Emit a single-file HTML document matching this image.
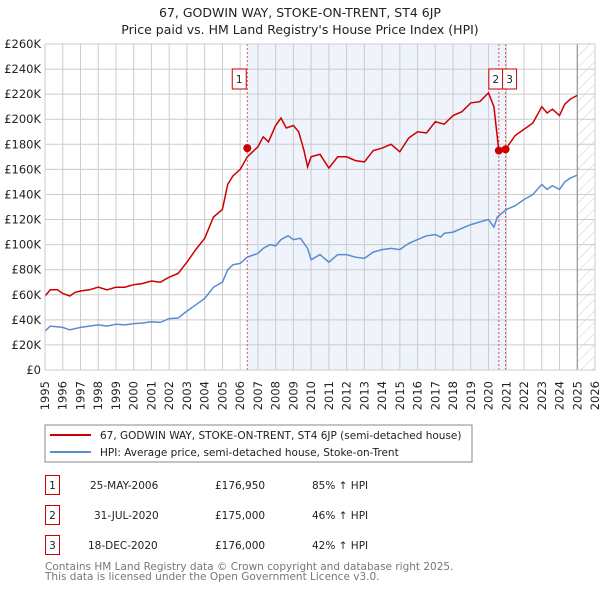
<!DOCTYPE html>
<html><head><meta charset="utf-8"><style>
body{margin:0;background:#fff;font-family:"Liberation Sans","DejaVu Sans",sans-serif;}
svg text{font-family:"DejaVu Sans","Liberation Sans",sans-serif;}
</style></head><body>
<svg id="c" width="600" height="590" xmlns="http://www.w3.org/2000/svg">
<defs><pattern id="h" width="8" height="8" patternUnits="userSpaceOnUse" patternTransform="rotate(45)"><line x1="0" y1="0" x2="0" y2="8" stroke="#ccc" stroke-width="1"/></pattern></defs>
<text x="300" y="17" text-anchor="middle" font-size="12.5" fill="#222">67, GODWIN WAY, STOKE-ON-TRENT, ST4 6JP</text>
<text x="300" y="34" text-anchor="middle" font-size="12.5" fill="#222">Price paid vs. HM Land Registry's House Price Index (HPI)</text>
<g id="plot"></g>
<rect x="45" y="425" width="427" height="37" fill="#fff" stroke="#888"/>
<line x1="50" y1="435" x2="91" y2="435" stroke="#cc0000" stroke-width="2"/>
<text x="100" y="439" font-size="10.5" fill="#222">67, GODWIN WAY, STOKE-ON-TRENT, ST4 6JP (semi-detached house)</text>
<line x1="50" y1="452" x2="91" y2="452" stroke="#5b8bd0" stroke-width="2"/>
<text x="100" y="456" font-size="10.5" fill="#222">HPI: Average price, semi-detached house, Stoke-on-Trent</text>
<g font-size="10.5" fill="#222">
<rect x="45.5" y="475.5" width="14" height="19" fill="none" stroke="#cc0000"/><text x="52.5" y="489" text-anchor="middle">1</text>
<text x="90" y="489">25-MAY-2006</text><text x="215" y="489">£176,950</text><text x="312" y="489">85% ↑ HPI</text>
<rect x="45.5" y="505.5" width="14" height="19" fill="none" stroke="#cc0000"/><text x="52.5" y="519" text-anchor="middle">2</text>
<text x="94" y="519">31-JUL-2020</text><text x="215" y="519">£175,000</text><text x="312" y="519">46% ↑ HPI</text>
<rect x="45.5" y="535.5" width="14" height="19" fill="none" stroke="#cc0000"/><text x="52.5" y="549" text-anchor="middle">3</text>
<text x="88" y="549">18-DEC-2020</text><text x="215" y="549">£176,000</text><text x="312" y="549">42% ↑ HPI</text>
</g>
<text x="45" y="570" font-size="10.5" fill="#777">Contains HM Land Registry data © Crown copyright and database right 2025.</text>
<text x="45" y="580" font-size="10.5" fill="#777">This data is licensed under the Open Government Licence v3.0.</text>
</svg>
<script>
const hpiYears=[1995,1995.3,1996,1996.4,1997,1998,1998.5,1999,1999.5,2000,2000.5,2001,2001.5,2002,2002.5,2003,2003.5,2004,2004.5,2005,2005.3,2005.6,2006,2006.4,2007,2007.3,2007.7,2008,2008.3,2008.7,2009,2009.4,2009.8,2010,2010.5,2011,2011.5,2012,2012.5,2013,2013.5,2014,2014.5,2015,2015.5,2016,2016.5,2017,2017.3,2017.5,2018,2018.5,2019,2019.5,2020,2020.3,2020.5,2021,2021.5,2022,2022.5,2023,2023.3,2023.6,2024,2024.3,2024.6,2025];
const hpiValues=[31,35,34,32,34,36,35,36.5,36,37,37.5,38.5,38,41,41.5,47,52,57,66,70,80,84,85,90,93,97,100,99,104,107,104,105,97,88,92,86,92,92,90,89,94,96,97,96,101,104,107,108,106,109,110,113,116,118,120,114,122,128,131,136,140,148,144,147,144,150,153,155.5];
const priceYears=[1995,1995.3,1995.7,1996,1996.4,1996.7,1997,1997.5,1998,1998.5,1999,1999.5,2000,2000.5,2001,2001.5,2002,2002.5,2003,2003.5,2004,2004.5,2005,2005.3,2005.6,2006,2006.4,2007,2007.3,2007.6,2008,2008.3,2008.6,2009,2009.3,2009.6,2009.8,2010,2010.5,2011,2011.5,2012,2012.5,2013,2013.5,2014,2014.5,2015,2015.5,2016,2016.5,2017,2017.5,2018,2018.5,2019,2019.5,2020,2020.3,2020.58,2020.96,2021.5,2022,2022.5,2023,2023.3,2023.6,2024,2024.3,2024.6,2025];
const priceValues=[59,64,64,61,59,62,63,64,66,64,66,66,68,69,71,70,74,77,86,96,105,122,128,148,155,160,170,178,186,182,195,201,193,195,190,175,162,170,172,161,170,170,167,166,175,177,180,174,185,190,189,198,196,203,206,213,214,221,210,175,176,187,192,197,210,205,208,203,212,216,219];
const saleYears=[2006.4,2020.58,2020.96];
const saleValues=[176.95,175,176];
const saleLabels=["1","2","3"];
const yTicks=[0,20,40,60,80,100,120,140,160,180,200,220,240,260];
const xTicks=[1995,1996,1997,1998,1999,2000,2001,2002,2003,2004,2005,2006,2007,2008,2009,2010,2011,2012,2013,2014,2015,2016,2017,2018,2019,2020,2021,2022,2023,2024,2025,2026];
const X0=45,X1=595,Y0=370,Y1=44;
const xs=y=>X0+(y-1995)/(2026-1995)*(X1-X0);
const ys=v=>Y0-v/260*(Y0-Y1);
const NS="http://www.w3.org/2000/svg";
const g=document.getElementById('plot');
function mk(t,a){const e=document.createElementNS(NS,t);for(const k in a)e.setAttribute(k,a[k]);g.appendChild(e);return e;}
const bg=mk('rect',{x:X0,y:Y1,width:X1-X0,height:Y0-Y1,fill:'#fff'});


const sh=mk('rect',{x:xs(saleYears[0]),y:Y1,width:xs(saleYears[2])-xs(saleYears[0]),height:Y0-Y1,fill:'#eef3fc'});


const hz=mk('rect',{x:xs(2025),y:Y1,width:X1-xs(2025),height:Y0-Y1,fill:'url(#h)'});


yTicks.forEach(v=>{mk('line',{x1:X0,x2:X1,y1:ys(v),y2:ys(v),stroke:'#ccc'});
const t=mk('text',{x:X0-4,y:ys(v)+4,'text-anchor':'end','font-size':11.5,fill:'#222'});t.textContent=v==0?'£0':'£'+v+'K';

});
xTicks.forEach(y=>{mk('line',{x1:xs(y),x2:xs(y),y1:Y1,y2:Y0,stroke:'#ccc'});
const t=mk('text',{x:0,y:0,'text-anchor':'end','font-size':11.5,fill:'#222',transform:`translate(${xs(y)+4},${Y0+11}) rotate(-90)`});t.textContent=y;

});
mk('line',{x1:xs(2025),x2:xs(2025),y1:Y1,y2:Y0,stroke:'#888'});
saleYears.forEach((y,i)=>{const l=mk('line',{x1:xs(y),x2:xs(y),y1:Y1,y2:Y0,stroke:'#e05050','stroke-dasharray':'2,2'});

});
const pts=(xa,va)=>xa.map((y,i)=>xs(y).toFixed(1)+','+ys(va[i]).toFixed(1)).join(' ');
const hl=mk('polyline',{points:pts(hpiYears,hpiValues),fill:'none',stroke:'#5b8bd0','stroke-width':1.5});


const pl=mk('polyline',{points:pts(priceYears,priceValues),fill:'none',stroke:'#cc0000','stroke-width':1.5});


saleYears.forEach((y,i)=>{const c=mk('circle',{cx:xs(y),cy:ys(saleValues[i]),r:4,fill:'#cc0000'});


const bx=i==1?xs(y)-10:xs(y)-15;const bxx=i==2?xs(y)-3:bx;
const r=mk('rect',{x:bxx,y:69,width:14,height:20,fill:'#fff',stroke:'#cc0000'});


const t=mk('text',{x:bxx+7,y:83,'text-anchor':'middle','font-size':10.5,fill:'#222'});t.textContent=saleLabels[i];});
mk('rect',{x:X0,y:Y1,width:X1-X0,height:Y0-Y1,fill:'none',stroke:'#ccc'});
</script>
</body></html>
